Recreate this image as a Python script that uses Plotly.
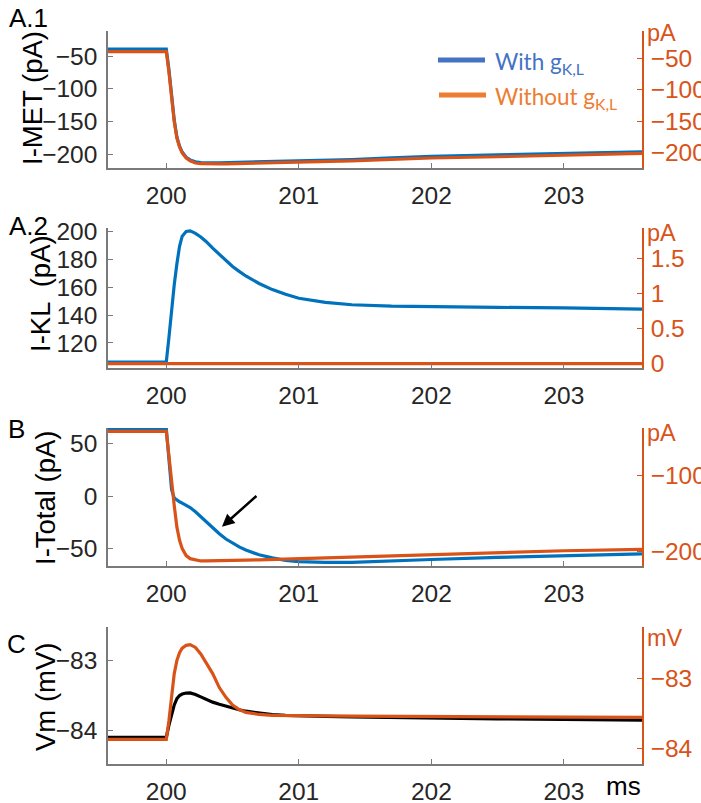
import plotly.graph_objects as go

W, H = 701, 803

# ---------------- data ----------------
t_ms = [199.56, 200.00, 200.02, 200.04, 200.06, 200.08, 200.10, 200.12, 200.15, 200.18,
        200.22, 200.26, 200.30, 200.35, 200.40, 200.45, 200.50, 200.55, 200.60, 200.70,
        200.80, 200.90, 201.00, 201.20, 201.40, 201.70, 202.00, 202.50, 203.00, 203.59]

imet_with = [-39.5, -39.5, -71, -114, -148, -174, -188, -197, -205, -209,
             -212, -213, -213.5, -213.5, -213.4, -213.2, -213, -212.8, -212.6, -212.2,
             -211.8, -211.3, -210.8, -209.8, -208.5, -206, -203.5, -201.2, -199, -196.5]
imet_without = [-39.5, -39.5, -72, -116, -151, -177, -191, -200.5, -208.5, -213,
                -216.5, -217.6, -218, -218, -218, -217.8, -217.6, -217.4, -217.2, -216.8,
                -216.3, -215.7, -215.1, -214, -213, -210.8, -208.5, -206.5, -204.5, -201.3]

ikl_with = [106.3, 106.3, 124, 146, 162, 177, 189.5, 196.8, 200.2, 200.6,
            198.8, 196.2, 193, 188.2, 183.8, 179.3, 175, 171.5, 168.2, 162.8,
            158.4, 155, 152.2, 149.2, 147.5, 146.5, 146, 145.6, 145.2, 144.4]
ikl_without = [0] * 30

itot_with = [64, 64, 35, 6, -2, -4, -5.5, -6.8, -8.5, -11,
             -15, -19.7, -24.5, -30.5, -36, -41, -45, -48.5, -51.5, -56,
             -59, -61.3, -62.5, -63.3, -63.2, -62.2, -60.5, -58.5, -56.8, -55.2]
itot_without = [-43, -43, -75, -110, -140, -168, -185, -196, -205, -209,
                -211, -212, -212, -212, -211.8, -211.6, -211.4, -211.2, -211, -210.5,
                -210, -209.3, -208.6, -207.5, -206.5, -205, -203.4, -201, -198.7, -196.9]

vm_with = [-84.105, -84.105, -83.93, -83.76, -83.64, -83.55, -83.505, -83.484, -83.47, -83.468,
           -83.49, -83.525, -83.56, -83.60, -83.63, -83.66, -83.69, -83.71, -83.73, -83.76,
           -83.78, -83.79, -83.797, -83.805, -83.81, -83.82, -83.833, -83.84, -83.848, -83.857]
vm_without = [-83.871, -83.871, -83.60, -83.21, -82.93, -82.74, -82.63, -82.565, -82.525, -82.515,
              -82.555, -82.65, -82.77, -82.93, -83.13, -83.27, -83.38, -83.445, -83.485, -83.515,
              -83.527, -83.532, -83.534, -83.536, -83.538, -83.542, -83.545, -83.549, -83.553, -83.557]

x_ticks = [200, 201, 202, 203]
x_ticklabels = ["200", "201", "202", "203"]

panel_labels = ["A.1", "A.2", "B", "C"]
left_titles = ["I-MET (pA)", "I-KL  (pA)", "I-Total (pA)", "Vm (mV)"]
right_units = ["pA", "pA", "pA", "mV"]

left_ticks = [[-200, -150, -100, -50], [120, 140, 160, 180, 200], [-50, 0, 50], [-84, -83]]
left_ticklabels = [["\u2212200", "\u2212150", "\u2212100", "\u221250"],
                   ["120", "140", "160", "180", "200"],
                   ["\u221250", "0", "50"], ["\u221284", "\u221283"]]
right_ticks = [[-200, -150, -100, -50], [0, 0.5, 1, 1.5], [-200, -100], [-84, -83]]
right_ticklabels = [["\u2212200", "\u2212150", "\u2212100", "\u221250"],
                    ["0", "0.5", "1", "1.5"],
                    ["\u2212200", "\u2212100"], ["\u221284", "\u221283"]]

left_series = [imet_with, ikl_with, itot_with, vm_with]
right_series = [imet_without, ikl_without, itot_without, vm_without]

# ---------------- styling ----------------
BLUE = "#0072BD"
ORANGE = "#D95319"
BLACK = "#000000"
LEG_BLUE = "#4472C4"
LEG_ORANGE = "#ED7D31"
AX_GRAY = "#7a7a7a"
TXT = "#262626"
FONT = "Liberation Sans"
TICK_SIZE = 24.5

left_colors = [BLUE, BLUE, BLUE, BLACK]

# panel pixel boxes (top, bottom)
boxes = [(31, 168), (228, 368), (428, 566), (627, 764)]
left_ranges = [[-221.4, -11.7], [102.0, 202.7], [-66.7, 64.8], [-84.486, -82.524]]
right_ranges = [[-224.4, -6.6], [-0.063, 1.93], [-218.6, -38.7], [-84.224, -82.263]]

X0, X1 = 108, 642


def px(x):
    return x / W


def py(y):
    return 1 - y / H


fig = go.Figure()
layout = dict(
    width=W, height=H, margin=dict(l=0, r=0, t=0, b=0, autoexpand=False),
    paper_bgcolor="white", plot_bgcolor="white", showlegend=False,
    font=dict(family=FONT, color=TXT),
)
annotations = []
shapes = []

for i in range(4):
    xa = "x" if i == 0 else f"x{i + 1}"
    yl = f"y{2 * i + 1}" if i > 0 else "y"
    yr = f"y{2 * i + 2}"
    xkey = "xaxis" if i == 0 else f"xaxis{i + 1}"
    ylkey = "yaxis" if i == 0 else f"yaxis{2 * i + 1}"
    yrkey = f"yaxis{2 * i + 2}"
    top, bot = boxes[i]
    dom_y = [py(bot), py(top)]

    layout[xkey] = dict(
        domain=[px(X0), px(X1)], range=[199.56, 203.59], anchor=yl,
        tickvals=x_ticks, ticktext=x_ticklabels, ticks="inside", ticklen=5,
        tickcolor=AX_GRAY, showline=True, linecolor=AX_GRAY, linewidth=1.5,
        showgrid=False, zeroline=False, automargin=False,
        tickfont=dict(size=TICK_SIZE, color=TXT, family=FONT),
        ticklabelstandoff=5,
    )
    layout[ylkey] = dict(
        domain=dom_y, range=left_ranges[i], anchor=xa, side="left",
        tickvals=left_ticks[i], ticktext=left_ticklabels[i], ticks="inside", ticklen=5,
        tickcolor=AX_GRAY, showline=True, linecolor=AX_GRAY, linewidth=1.5,
        showgrid=False, zeroline=False, automargin=False,
        tickfont=dict(size=TICK_SIZE, color=TXT, family=FONT),
        ticklabelstandoff=4,
    )
    layout[yrkey] = dict(
        domain=dom_y, range=right_ranges[i], anchor=xa, side="right",
        overlaying=yl, tickvals=right_ticks[i], ticktext=right_ticklabels[i],
        ticks="inside", ticklen=5, tickcolor=ORANGE, showline=True, linecolor=ORANGE,
        linewidth=1.5, showgrid=False, zeroline=False, automargin=False,
        tickfont=dict(size=TICK_SIZE, color=ORANGE, family=FONT), ticklabelstandoff=2,
    )

    fig.add_trace(go.Scatter(x=t_ms, y=left_series[i], mode="lines", xaxis=xa, yaxis=yl,
                             line=dict(color=left_colors[i], width=3.2), hoverinfo="skip"))
    fig.add_trace(go.Scatter(x=t_ms, y=right_series[i], mode="lines", xaxis=xa, yaxis=yr,
                             line=dict(color=ORANGE, width=3.2), hoverinfo="skip"))

    # panel label
    lbl_pos = [(28, 18), (28, 226), (16, 429), (16, 644)][i]
    annotations.append(dict(text=panel_labels[i], x=px(lbl_pos[0]), y=py(lbl_pos[1]),
                            xref="paper", yref="paper", showarrow=False,
                            xanchor="center", yanchor="middle",
                            font=dict(size=26, color=BLACK, family=FONT)))
    # left axis title
    tpos = [(32, 98), (40, 294), (45, 498), (45, 697)][i]
    annotations.append(dict(text=left_titles[i], x=px(tpos[0]), y=py(tpos[1]),
                            xref="paper", yref="paper", showarrow=False, textangle=-90,
                            xanchor="center", yanchor="middle",
                            font=dict(size=27.5, color=BLACK, family=FONT)))
    # right unit label
    upos = [33, 233, 433, 638][i]
    annotations.append(dict(text=right_units[i], x=px(645), y=py(upos),
                            xref="paper", yref="paper", showarrow=False,
                            xanchor="left", yanchor="middle",
                            font=dict(size=23.5, color=ORANGE, family=FONT)))

# x unit
annotations.append(dict(text="ms", x=px(623), y=py(786), xref="paper", yref="paper",
                        showarrow=False, xanchor="center", yanchor="middle",
                        font=dict(size=26, color=BLACK, family=FONT)))

# legend
shapes.append(dict(type="line", xref="paper", yref="paper", x0=px(438), x1=px(485),
                   y0=py(60), y1=py(60), line=dict(color=LEG_BLUE, width=5)))
shapes.append(dict(type="line", xref="paper", yref="paper", x0=px(439), x1=px(486),
                   y0=py(95), y1=py(95), line=dict(color=LEG_ORANGE, width=5)))
annotations.append(dict(text="With g<sub>K,L</sub>", x=px(493), y=py(63), xref="paper",
                        yref="paper", showarrow=False, xanchor="left", yanchor="middle",
                        font=dict(size=22.5, color=LEG_BLUE, family="Lato")))
annotations.append(dict(text="Without g<sub>K,L</sub>", x=px(493), y=py(98), xref="paper",
                        yref="paper", showarrow=False, xanchor="left", yanchor="middle",
                        font=dict(size=22.5, color=LEG_ORANGE, family="Lato")))

# arrow in panel B
annotations.append(dict(text="", x=200.42, y=-29.2, xref="x3", yref="y5",
                        ax=36, ay=-32, axref="pixel", ayref="pixel", showarrow=True,
                        arrowhead=2, arrowsize=1, arrowwidth=2.5, arrowcolor=BLACK,
                        standoff=0))

layout["annotations"] = annotations
layout["shapes"] = shapes
fig.update_layout(**layout)

fig.write_html("out.html")
